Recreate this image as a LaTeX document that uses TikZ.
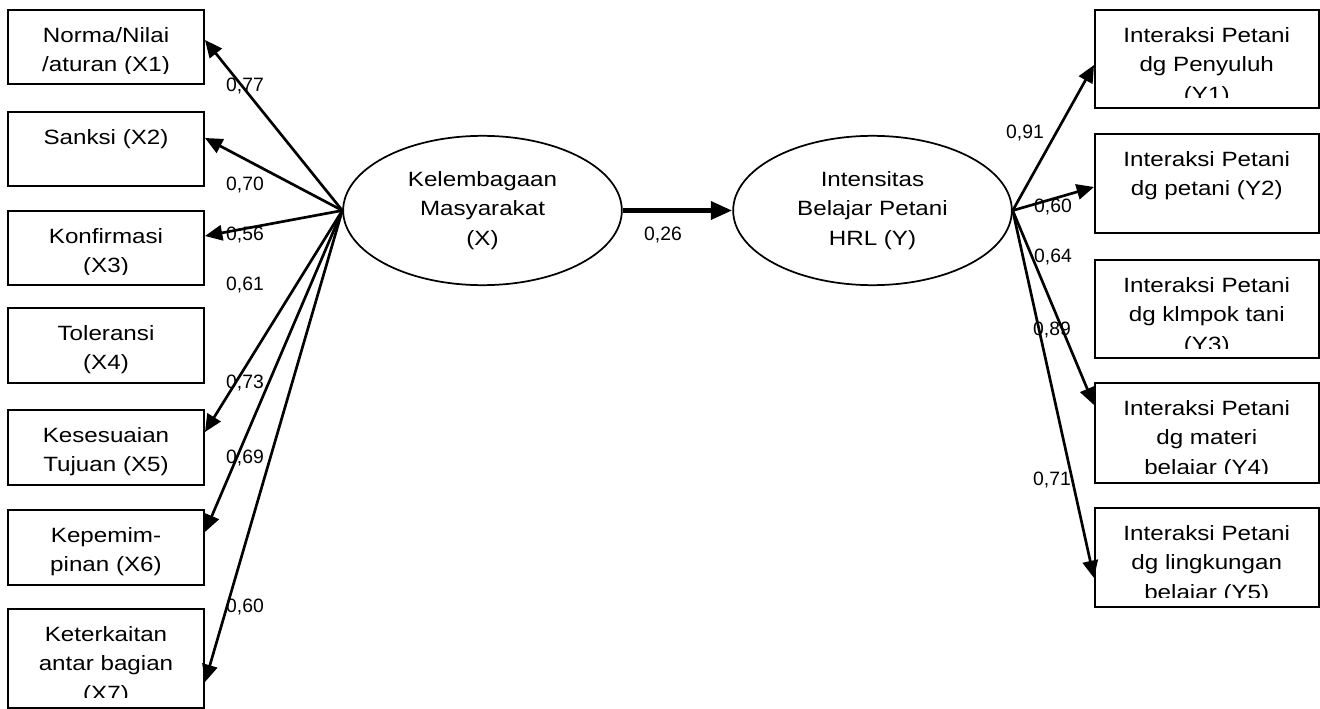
\documentclass[tikz,border=0pt]{standalone}
\usepackage{fontspec}
\setmainfont{Liberation Sans}[FakeStretch=1.17]
\newfontfamily\lblfont{Liberation Sans}
\usetikzlibrary{arrows.meta,shapes.geometric}
\tikzset{
  boxst/.style={draw, line width=1.5pt, inner sep=0pt, rectangle},
  txt/.style={align=center, inner sep=0pt, font=\fontsize{15.5}{22.1}\selectfont},
  ellst/.style={draw, ellipse, line width=1.3pt, inner sep=0pt, align=center,
     minimum width=209pt, minimum height=112pt, font=\fontsize{15.5}{22.1}\selectfont},
  lbl/.style={inner sep=0pt, font=\lblfont\fontsize{14.5}{17}\selectfont},
  arr/.style={-{Triangle[length=13pt,width=11.5pt]}, line width=2pt},
  bigarr/.style={-{Triangle[length=16pt,width=13pt]}, line width=3.8pt}
}
\newcommand{\pbox}[6]{%
  \node[boxst, minimum width={(#4-#2)*0.75pt}, minimum height={(#5-#3)*0.75pt}] (#1) at ({(#2+#4)/2},{(#3+#5)/2}) {};
  \begin{scope}
    \clip (#2,#3) rectangle (#4,{#5-10});
    \node[txt, anchor=north] (#1t) at ({(#2+#4)/2},{#3+17}) {#6};
  \end{scope}}
\begin{document}
\begin{tikzpicture}[x=0.75pt,y=-0.75pt]
\useasboundingbox (0,0) rectangle (1320,709);
% left boxes
\pbox{x1}{8}{10}{204}{84}{Norma/Nilai\\/aturan (X1)}
\pbox{x2}{8}{112}{204}{186}{Sanksi (X2)}
\pbox{x3}{8}{211}{204}{285}{Konfirmasi\\(X3)}
\pbox{x4}{8}{308}{204}{383}{Toleransi\\(X4)}
\pbox{x5}{8}{410}{204}{485}{Kesesuaian\\Tujuan (X5)}
\pbox{x6}{8}{510}{204}{585}{Kepemim-\\pinan (X6)}
\pbox{x7}{8}{609}{204}{707.5}{Keterkaitan\\antar bagian\\(X7)}
% right boxes
\pbox{y1}{1095}{10}{1318.5}{108}{Interaksi Petani\\dg Penyuluh\\(Y1)}
\pbox{y2}{1095}{134}{1318.5}{233}{Interaksi Petani\\dg petani (Y2)}
\pbox{y3}{1095}{260}{1318.5}{358}{Interaksi Petani\\dg klmpok tani\\(Y3)}
\pbox{y4}{1095}{383}{1318.5}{483}{Interaksi Petani\\dg materi\\belajar (Y4)}
\pbox{y5}{1095}{508}{1318.5}{607}{Interaksi Petani\\dg lingkungan\\belajar (Y5)}
% ellipses
\node[ellst] (lx) at (482.5,210.5) {Kelembagaan\\Masyarakat\\(X)};
\node[ellst] (ry) at (872.5,210.5) {Intensitas\\Belajar Petani\\HRL (Y)};
% arrows left
\draw[arr] (lx.west) -- (x1.east |- 0,40);
\draw[arr] (lx.west) -- (x2.east |- 0,138);
\draw[arr] (lx.west) -- (x3.east |- 0,236);
\draw[arr] (lx.west) -- (x5.east |- 0,432);
\draw[arr] (lx.west) -- (x6.east |- 0,532);
\draw[arr] (lx.west) -- (x7.east |- 0,682);
% middle arrow
\draw[bigarr] (lx.east) -- (ry.west);
% arrows right
\draw[arr] (ry.east) -- (y1.west |- 0,65);
\draw[arr] (ry.east) -- (y2.west |- 0,187);
\draw[arr] (ry.east) -- (y4.west |- 0,405);
\draw[arr] (ry.east) -- (y5.west |- 0,578);
% labels
\node[lbl] (l1) at (245,86) {0,77};
\node[lbl] (l2) at (245,185) {0,70};
\node[lbl] (l3) at (245,235) {0,56};
\node[lbl] (l4) at (245,285) {0,61};
\node[lbl] (l5) at (245,383) {0,73};
\node[lbl] (l6) at (245,458) {0,69};
\node[lbl] (l7) at (245,607) {0,60};
\node[lbl] (lm) at (663,235) {0,26};
\node[lbl] (r1) at (1025,133) {0,91};
\node[lbl] (r2) at (1053,207) {0,60};
\node[lbl] (r3) at (1053,257) {0,64};
\node[lbl] (r4) at (1052,330) {0,89};
\node[lbl] (r5) at (1052,480) {0,71};
\end{tikzpicture}
\end{document}
